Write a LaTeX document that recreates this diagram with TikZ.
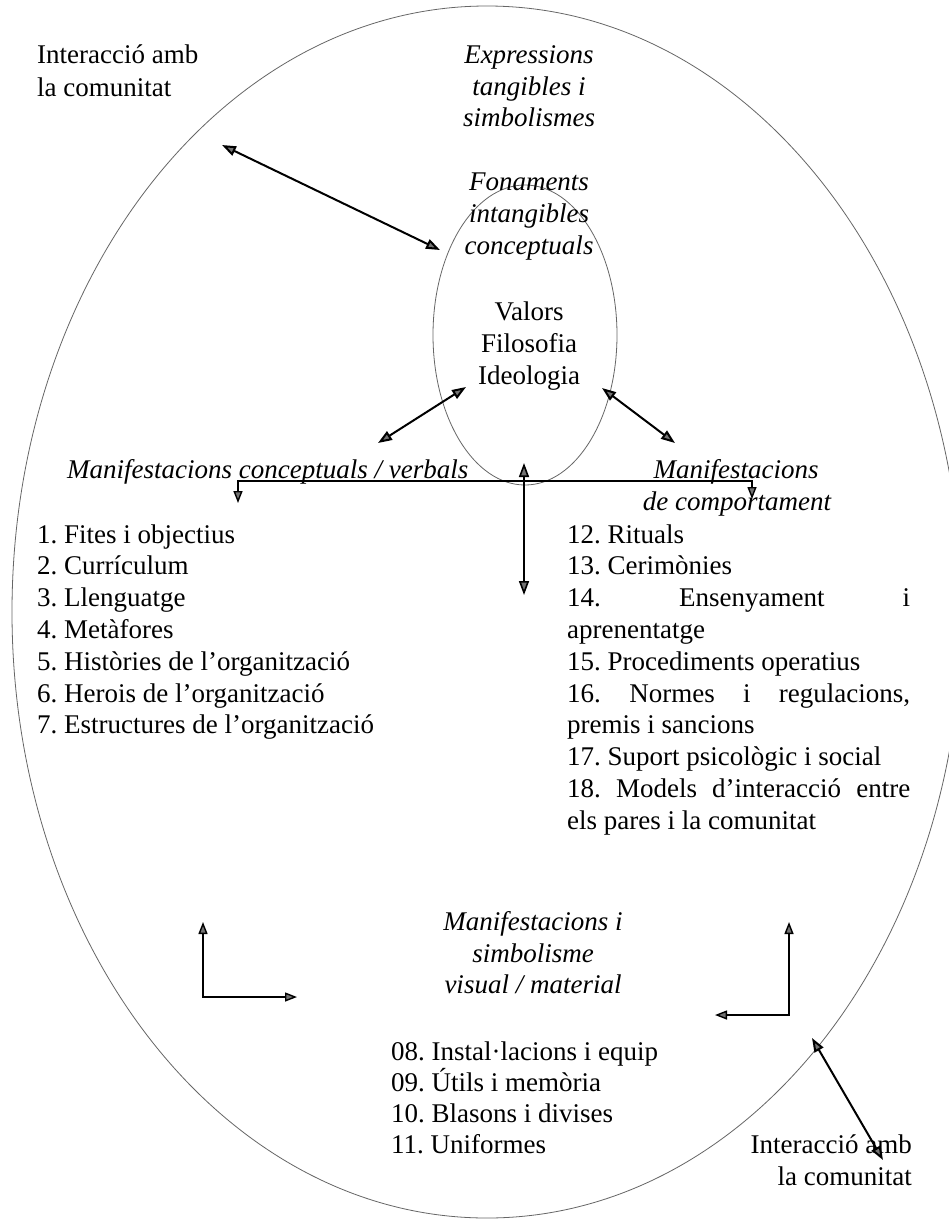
\documentclass[tikz,border=0pt]{standalone}
\usepackage{fontspec}
\setmainfont{Liberation Serif}
\usetikzlibrary{arrows.meta}
\frenchspacing
\begin{document}
\begin{tikzpicture}[x=1pt,y=-1pt,
  txt/.style={inner sep=0pt, font=\fontsize{27}{32}\selectfont},
  itxt/.style={inner sep=0pt, font=\fontsize{27}{32}\selectfont\itshape},
  ell/.style={draw=black!60, line width=0.8pt},
  arr/.style={line width=2pt, {Triangle[length=14pt,width=10pt,fill=black!55]}-{Triangle[length=14pt,width=10pt,fill=black!55]}},
  larr/.style={line width=1.4pt, {Triangle[length=12pt,width=9pt,fill=black!55]}-{Triangle[length=12pt,width=9pt,fill=black!55]}},
]
\useasboundingbox (0,0) rectangle (949,1221);
\fill[white] (0,0) rectangle (949,1221);

% ellipses
\draw[ell] (487,612) ellipse [x radius=475pt, y radius=606pt];
\draw[ell] (525,335) ellipse [x radius=92pt, y radius=150pt];

% top-left
\node[txt, anchor=base west] (tlA) at (37,63) {Interacció amb};
\node[txt, anchor=base west] (tlB) at (37,96) {la comunitat};

% top centre
\node[itxt, anchor=base] (exA) at (529,63) {Expressions};
\node[itxt, anchor=base] (exB) at (529,95) {tangibles i};
\node[itxt, anchor=base] (exC) at (529,126) {simbolismes};
\node[itxt, anchor=base] (foA) at (529,190) {Fonaments};
\node[itxt, anchor=base] (foB) at (529,222) {intangibles};
\node[itxt, anchor=base] (foC) at (529,254) {conceptuals};
\node[txt, anchor=base] (vaA) at (529,320) {Valors};
\node[txt, anchor=base] (vaB) at (529,352) {Filosofia};
\node[txt, anchor=base] (vaC) at (529,384) {Ideologia};

% manifestation headings
\node[itxt, anchor=base west] (mcv) at (67,478) {Manifestacions conceptuals / verbals};
\node[itxt, anchor=base] (mcA) at (736,478) {Manifestacions};
\node[itxt, anchor=base] (mcB) at (737,510) {de comportament};

% left list
\foreach \t [count=\i] in {1. Fites i objectius, 2. Currículum, 3. Llenguatge, 4. Metàfores, 5. Històries de l’organització, 6. Herois de l’organització, 7. Estructures de l’organització}
  \node[txt, anchor=base west] (L\i) at (37,{543+31.8*(\i-1)}) {\t};

% right list
\node[txt, anchor=base west] (R1) at (567,543) {12. Rituals};
\node[txt, anchor=base west] (R2) at (567,574.8) {13. Cerimònies};
\node[txt, anchor=base west] (R3) at (567,606.6) {\hbox to 343pt{14.\hfill Ensenyament\hfill i}};
\node[txt, anchor=base west] (R4) at (567,638.4) {aprenentatge};
\node[txt, anchor=base west] (R5) at (567,670.2) {15. Procediments operatius};
\node[txt, anchor=base west] (R6) at (567,702) {\hbox to 343pt{16.\hfill Normes\hfill i\hfill regulacions,}};
\node[txt, anchor=base west] (R7) at (567,733.8) {premis i sancions};
\node[txt, anchor=base west] (R8) at (567,765.6) {17. Suport psicològic i social};
\node[txt, anchor=base west] (R9) at (567,797.4) {\hbox to 343pt{18.\hfill Models\hfill d’interacció\hfill entre}};
\node[txt, anchor=base west] (R10) at (567,829.2) {els pares i la comunitat};

% bottom centre
\node[itxt, anchor=base] (mvA) at (533,930) {Manifestacions i};
\node[itxt, anchor=base] (mvB) at (533,962) {simbolisme};
\node[itxt, anchor=base] (mvC) at (533,993) {visual / material};
\foreach \t [count=\i] in {08. Instal·lacions i equip, 09. Útils i memòria, 10. Blasons i divises, 11. Uniformes}
  \node[txt, anchor=base west] (B\i) at (391,{1060+31*(\i-1)}) {\t};

% bottom right
\node[txt, anchor=base east] (brA) at (912,1153) {Interacció amb};
\node[txt, anchor=base east] (brB) at (912,1185) {la comunitat};

% arrow end points
\coordinate (a1s) at (222,145); \coordinate (a1e) at (440,250);
\coordinate (a2s) at (378,443); \coordinate (a2e) at (466,387);
\coordinate (a3s) at (602,388); \coordinate (a3e) at (675,443);
\coordinate (a4s) at (524,463); \coordinate (a4e) at (524,595);
\coordinate (hlA) at (238,503); \coordinate (hlB) at (238,481);
\coordinate (hlC) at (752,481); \coordinate (hlD) at (752,499);
\coordinate (lLa) at (203,922); \coordinate (lLb) at (203,997); \coordinate (lLc) at (297,997);
\coordinate (rLa) at (789,922); \coordinate (rLb) at (789,1015); \coordinate (rLc) at (715,1015);
\coordinate (a5s) at (812,1038); \coordinate (a5e) at (883,1160);

\draw[arr] (a1s) -- (a1e);
\draw[arr] (a2s) -- (a2e);
\draw[arr] (a3s) -- (a3e);
\draw[arr, line width=1.6pt] (a4s) -- (a4e);
\draw[larr] (hlA) -- (hlB) -- (hlC) -- (hlD);
\draw[larr] (lLa) -- (lLb) -- (lLc);
\draw[larr] (rLa) -- (rLb) -- (rLc);
\draw[arr] (a5s) -- (a5e);
\end{tikzpicture}
\end{document}
